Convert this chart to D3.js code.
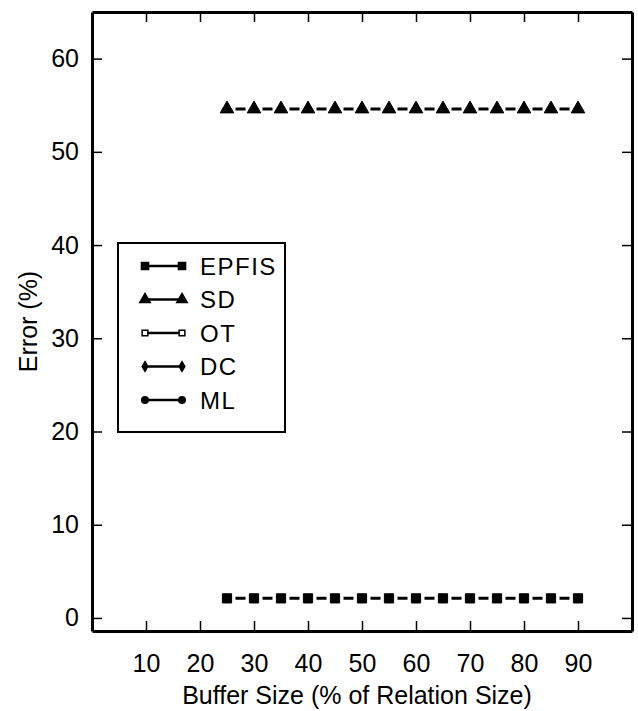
<!DOCTYPE html>
<html>
<head>
<meta charset="utf-8">
<script src="https://cdn.jsdelivr.net/npm/d3@7"></script>
<style>
  body { margin: 0; background: #fff; }
  text { font-family: "Liberation Sans", Arial, sans-serif; fill: #000; }
</style>
</head>
<body>
<div id="chart"></div>
<script>
// Data
const bufferSizes = [25, 30, 35, 40, 45, 50, 55, 60, 65, 70, 75, 80, 85, 90]
const sdError = [54.6, 54.6, 54.6, 54.6, 54.6, 54.6, 54.6, 54.6, 54.6, 54.6, 54.6, 54.6, 54.6, 54.6]
const epfisError = [2.1, 2.1, 2.1, 2.1, 2.1, 2.1, 2.1, 2.1, 2.1, 2.1, 2.1, 2.1, 2.1, 2.1]
const xTicks = [10, 20, 30, 40, 50, 60, 70, 80, 90]
const yTicks = [0, 10, 20, 30, 40, 50, 60]
const legendNames = ['EPFIS', 'SD', 'OT', 'DC', 'ML']
const legendSymbols = ['square', 'triangle', 'openSquare', 'diamond', 'circle']

const width = 638,
      height = 711,
      margin = { top: 12, right: 6, bottom: 80, left: 92 }

let svg = d3.select('#chart')
  .append('svg')
  .attr('width', width)
  .attr('height', height)

let x = d3.scaleLinear()
  .domain([0, 100])
  .range([margin.left, width - margin.right])

let y = d3.scaleLinear()
  .domain([-1.4, 65])
  .range([height - margin.bottom, margin.top])

// axes, ticks pointing inwards
let styleAxis = g => {
  g.select('.domain').attr('stroke-width', 3)
  g.selectAll('.tick line').attr('stroke-width', 1.5)
  g.selectAll('.tick text')
    .style('font-family', '"Liberation Sans", Arial, sans-serif')
    .attr('font-size', 25)
    .attr('fill', '#000')
}

svg.append('g')
  .attr('transform', `translate(${ margin.left }, 0)`)
  .call(d3.axisLeft(y).tickValues(yTicks).tickSizeInner(-10).tickSizeOuter(0).tickPadding(13))
  .call(styleAxis)

svg.append('g')
  .attr('transform', `translate(${ width - margin.right }, 0)`)
  .call(d3.axisRight(y).tickValues(yTicks).tickSizeInner(-10).tickSizeOuter(0).tickFormat(''))
  .call(styleAxis)

svg.append('g')
  .attr('transform', `translate(0, ${ height - margin.bottom })`)
  .call(d3.axisBottom(x).tickValues(xTicks).tickSizeInner(-10).tickSizeOuter(0).tickPadding(23))
  .call(styleAxis)

svg.append('g')
  .attr('transform', `translate(0, ${ margin.top })`)
  .call(d3.axisTop(x).tickValues(xTicks).tickSizeInner(-10).tickSizeOuter(0).tickFormat(''))
  .call(styleAxis)

// axis titles
svg.append('text')
  .attr('x', 357)
  .attr('y', 704)
  .attr('text-anchor', 'middle')
  .attr('font-size', 25)
  .text('Buffer Size (% of Relation Size)')

svg.append('text')
  .attr('transform', `translate(37, ${ (margin.top + height - margin.bottom) / 2 }) rotate(-90)`)
  .attr('text-anchor', 'middle')
  .attr('font-size', 25)
  .text('Error (%)')

// symbols
let symbolFor = {
  square: { type: d3.symbolSquare, size: 85, fill: '#000' },
  triangle: { type: d3.symbolTriangle, size: 80, fill: '#000' },
  openSquare: { type: d3.symbolSquare, size: 55, fill: '#fff' },
  diamond: { type: d3.symbolDiamond, size: 45, fill: '#000' },
  circle: { type: d3.symbolCircle, size: 55, fill: '#000' }
}

let drawSeries = (values, sym) => {
  let pts = bufferSizes.map((b, i) => [x(b), y(values[i])])
  let step = x(bufferSizes[1]) - x(bufferSizes[0])
  let gap = 8.5

  svg.append('path')
    .attr('d', d3.line()(pts))
    .attr('fill', 'none')
    .attr('stroke', '#000')
    .attr('stroke-width', 3)
    .attr('stroke-dasharray', `0 ${ gap } ${ step - 2 * gap } ${ gap }`)

  let s = symbolFor[sym]
  svg.append('g')
    .selectAll('path')
    .data(pts)
    .enter()
    .append('path')
    .attr('transform', d => `translate(${ d[0] }, ${ d[1] })`)
    .attr('d', d3.symbol().type(s.type).size(s.size))
    .attr('fill', s.fill)
    .attr('stroke', '#000')
    .attr('stroke-width', 1)
}

drawSeries(sdError, 'triangle')
drawSeries(epfisError, 'square')

// legend
let legend = svg.append('g')

legend.append('rect')
  .attr('x', 118)
  .attr('y', 243)
  .attr('width', 167)
  .attr('height', 189)
  .attr('fill', '#fff')
  .attr('stroke', '#000')
  .attr('stroke-width', 2)

legendNames.forEach((name, i) => {
  let ly = 266 + i * 33.5
  let s = symbolFor[legendSymbols[i]]

  legend.append('line')
    .attr('x1', 145)
    .attr('x2', 182)
    .attr('y1', ly)
    .attr('y2', ly)
    .attr('stroke', '#000')
    .attr('stroke-width', 2.5)

  ;[145, 182].forEach(lx => {
    legend.append('path')
      .attr('transform', `translate(${ lx }, ${ ly })`)
      .attr('d', d3.symbol().type(s.type).size(s.size * 0.6))
      .attr('fill', s.fill)
      .attr('stroke', '#000')
      .attr('stroke-width', 1.5)
  })

  legend.append('text')
    .attr('x', 200)
    .attr('y', ly)
    .attr('dy', '0.36em')
    .attr('font-size', 24)
    .attr('letter-spacing', 1.5)
    .text(name)
})
</script>
</body>
</html>
